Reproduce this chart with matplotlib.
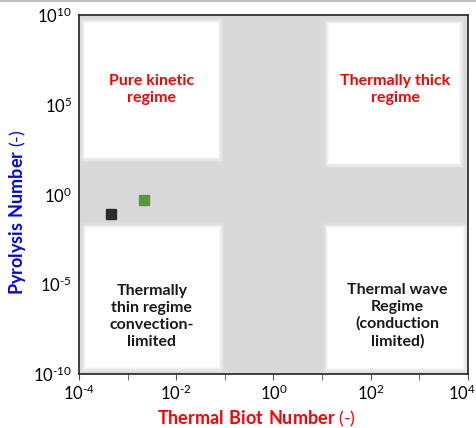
import numpy as np
import matplotlib
matplotlib.use("Agg")
import matplotlib.pyplot as plt
from matplotlib.patches import Rectangle
from matplotlib.ticker import NullFormatter, NullLocator
from matplotlib.transforms import ScaledTranslation

plt.rcParams['font.family'] = ['Lato', 'DejaVu Sans']
plt.rcParams['mathtext.fontset'] = 'custom'
plt.rcParams['mathtext.rm'] = 'Lato'
plt.rcParams['mathtext.bf'] = 'Lato:bold'
plt.rcParams['mathtext.default'] = 'regular'

# regime boxes: (x0, x1, y0, y1) in data units
regimes = {
    'kinetic': (10**-3.88, 10**-1.14, 10**2.09, 10**9.55),
    'thick': (10**1.14, 10**3.82, 10**1.75, 10**9.5),
    'thin': (10**-3.86, 10**-1.12, 10**-9.6, 10**-1.87),
    'wave': (10**1.12, 10**3.9, 10**-9.65, 10**-1.87),
}
labels = {
    'kinetic': 'Pure kinetic\nregime',
    'thick': 'Thermally thick\nregime',
    'thin': 'Thermally\nthin regime\nconvection-\nlimited',
    'wave': 'Thermal wave\nRegime\n(conduction\nlimited)',
}
label_colors = {'kinetic': 'red', 'thick': 'red', 'thin': '#1a1a1a', 'wave': '#1a1a1a'}
label_pos = {
    'kinetic': (10**-2.5, 10**5.85),
    'thick': (10**2.5, 10**5.85),
    'thin': (10**-2.5, 10**-6.8),
    'wave': (10**2.55, 10**-6.75),
}

# measured points
pts_x = [4.6e-4, 2.2e-3]
pts_y = [0.087, 0.49]
pts_c = ['#2b2b2b', '#5b963a']

xticks = [1e-4, 1e-2, 1e0, 1e2, 1e4]
xticklabels = [r'$10^{\text{-}4}$', r'$10^{\text{-}2}$', '$10^{0}$', '$10^{2}$', '$10^{4}$']
xminor = [1e-3, 1e-1, 1e1, 1e3]
yticks = [1e-10, 1e-5, 1e0, 1e5, 1e10]
yticklabels = [r'$10^{\text{-}10}$', r'$10^{\text{-}5}$', '$10^{0}$', '$10^{5}$', '$10^{10}$']

fig = plt.figure(figsize=(4.77, 4.28), dpi=100)
ax = fig.add_axes([0.1656, 0.1262, 0.8154, 0.8388])
ax.set_xscale('log')
ax.set_yscale('log')
ax.set_xlim(1e-4, 1e4)
ax.set_ylim(1e-10, 1e10)
ax.set_facecolor('#d9d9d9')

for key, (x0, x1, y0, y1) in regimes.items():
    # soft glow edge
    for lw, a in [(7, 0.15), (5, 0.25), (3, 0.4), (1.5, 0.6)]:
        ax.add_patch(Rectangle((x0, y0), x1 - x0, y1 - y0, facecolor='none',
                               edgecolor='white', lw=lw, alpha=a, zorder=1))
    ax.add_patch(Rectangle((x0, y0), x1 - x0, y1 - y0, facecolor='white',
                           edgecolor='none', zorder=2))
    ax.text(label_pos[key][0], label_pos[key][1], labels[key], ha='center', va='center',
            color=label_colors[key], fontsize=11.5, fontweight='bold', linespacing=1.25, zorder=3)

for x, y, c in zip(pts_x, pts_y, pts_c):
    ax.plot(x, y, marker='s', color=c, markersize=6.5, ls='none', zorder=4)

ax.set_xticks(xticks)
ax.set_xticklabels(xticklabels, fontsize=12)
ax.set_xticks(xminor, minor=True)
ax.xaxis.set_minor_formatter(NullFormatter())
ax.set_yticks(yticks)
ax.set_yticklabels(yticklabels, fontsize=12)
ax.yaxis.set_minor_locator(NullLocator())
ax.tick_params(axis='x', which='both', length=4, color='#555555', direction='out', pad=3)
ax.tick_params(axis='y', which='both', length=0, pad=5)

# pull the last x label in so it stays inside the figure
last = ax.get_xticklabels()[-1]
last.set_transform(last.get_transform() + ScaledTranslation(-0.06, 0, fig.dpi_scale_trans))

for s in ax.spines.values():
    s.set_color('#222222')
    s.set_linewidth(1.2)

ax.set_xlabel(r'$\mathbf{Thermal\ Biot\ Number}$ (-)', color='red', fontsize=13)
ax.xaxis.set_label_coords(0.457, -0.097)
ax.set_ylabel(r'$\mathbf{Pyrolysis\ Number}$ (-)', color='blue', fontsize=13)
ax.yaxis.set_label_coords(-0.131, 0.451)

# thin gray strip along the top of the frame
fig.patches.append(Rectangle((0, 0.995), 1, 0.005, transform=fig.transFigure,
                             facecolor='#c0c0c0', edgecolor='none'))

fig.savefig('out.png', dpi=100)
